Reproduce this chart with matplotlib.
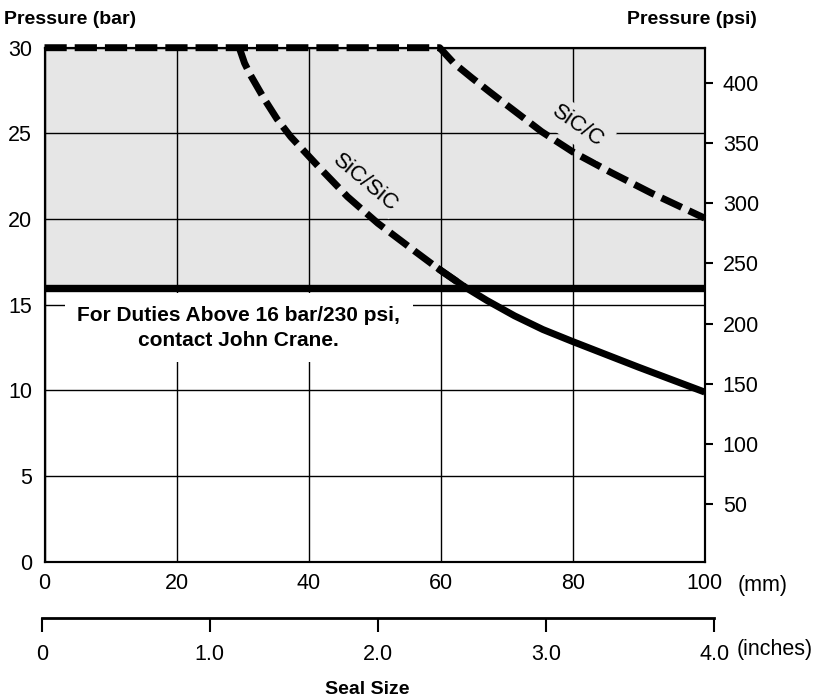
import matplotlib

matplotlib.use("Agg")
import matplotlib.pyplot as plt

plt.rcParams["font.family"] = ["Liberation Sans", "DejaVu Sans"]

# seal size (mm) vs max pressure (bar)
sic_c_mm = [0, 59.85, 62.0, 64.7, 67.5, 70.2, 75.3, 80.1, 85.9, 92.0, 100]
sic_c_bar = [30, 30, 29.1, 28.25, 27.4, 26.6, 25.1, 23.9, 22.7, 21.5, 20.05]

sic_sic_dash_mm = [29.5, 30.3, 31.2, 33.3, 35.2, 37.3, 41.4, 45.9, 50.5, 56.0, 60.0, 63.6]
sic_sic_dash_bar = [30, 29.1, 28.4, 27.0, 25.85, 24.8, 23.1, 21.3, 19.75, 18.15, 17.0, 16.05]

sic_sic_solid_mm = [59.5, 63.6, 67.0, 71.2, 75.5, 80.0, 90.0, 100]
sic_sic_solid_bar = [17.15, 16.05, 15.25, 14.35, 13.55, 12.85, 11.35, 9.9]

limit_bar = 16
top_bar = 30

mm_ticks = [0, 20, 40, 60, 80, 100]
bar_ticks = [0, 5, 10, 15, 20, 25, 30]
psi_ticks = [50, 100, 150, 200, 250, 300, 350, 400]
psi_range = (2.1, 429.3)
inch_ticks = [0, 1, 2, 3, 4]
inch_labels = ["0", "1.0", "2.0", "3.0", "4.0"]

W, H = 817, 700
FS = 15.5
HEAD_FS = 14

fig = plt.figure(figsize=(W / 100, H / 100), dpi=100)
left, right, bottom, top = 44.5, 704.7, 561.7, 47.7
ax = fig.add_axes([left / W, 1 - bottom / H, (right - left) / W, (bottom - top) / H])

ax.set_xlim(0, 100)
ax.set_ylim(0, 30)
ax.set_axisbelow(True)
ax.fill_between([0, 100], limit_bar, top_bar, color="#e6e6e6", zorder=0.2, lw=0)
ax.grid(True, color="black", lw=1.0)
ax.set_xticks(mm_ticks)
ax.set_yticks(bar_ticks)
ax.tick_params(axis="both", length=0, labelsize=FS)
ax.tick_params(axis="x", pad=8)
ax.tick_params(axis="y", pad=9)
for sp in ax.spines.values():
    sp.set_linewidth(1.5)

# limit line and curves
ax.axhline(limit_bar, color="black", lw=5.3, solid_capstyle="butt", zorder=3)
dash_kw = dict(color="black", lw=5, dashes=(3.2, 1.15), dash_capstyle="butt",
               clip_on=False, zorder=4)
ax.plot(sic_c_mm, sic_c_bar, **dash_kw)
ax.plot(sic_sic_dash_mm, sic_sic_dash_bar, **dash_kw)
ax.plot(sic_sic_solid_mm, sic_sic_solid_bar, color="black", lw=5,
        solid_capstyle="butt", clip_on=False, zorder=4)

ax.text(80.8, 25.4, "SiC/C", rotation=-35, ha="center", va="center", fontsize=16,
        rotation_mode="anchor", zorder=5,
        bbox=dict(boxstyle="square,pad=0.3", fc="#e6e6e6", ec="none"))
ax.text(48.6, 22.1, "SiC/SiC", rotation=-40, ha="center", va="center", fontsize=16,
        rotation_mode="anchor", zorder=5,
        bbox=dict(boxstyle="square,pad=0.1", fc="#e6e6e6", ec="none"))

ax.text(29.4, 13.65, "For Duties Above 16 bar/230 psi,\ncontact John Crane.",
        ha="center", va="center", fontsize=15, fontweight="bold", linespacing=1.4,
        zorder=2, bbox=dict(boxstyle="square,pad=0.6", fc="white", ec="none"))

# psi axis on the right
axr = ax.twinx()
axr.set_ylim(*psi_range)
axr.set_yticks(psi_ticks)
axr.tick_params(axis="y", direction="out", length=6, width=1.5, labelsize=FS, pad=7)
for sp in axr.spines.values():
    sp.set_linewidth(1.5)

# inches scale below
in_left, in_right, in_y = 41.7, 714.3, 617.7
axi = fig.add_axes([in_left / W, 1 - in_y / H, (in_right - in_left) / W, 0.0001])
axi.set_xlim(0, 4)
axi.set_ylim(0, 1)
for name in ["top", "left", "right"]:
    axi.spines[name].set_visible(False)
axi.spines["bottom"].set_linewidth(2)
axi.set_yticks([])
axi.set_xticks(inch_ticks)
axi.set_xticklabels(inch_labels)
axi.tick_params(axis="x", direction="out", length=10, width=1.5, labelsize=FS, pad=9)
axi.patch.set_visible(False)

fig.text(738 / W, 1 - 585 / H, "(mm)", fontsize=FS, ha="left", va="center")
fig.text(737 / W, 1 - 650 / H, "(inches)", fontsize=FS, ha="left", va="center")
fig.text(367 / W, 1 - 689 / H, "Seal Size", fontsize=HEAD_FS, fontweight="bold",
         ha="center", va="center")
fig.text(4 / W, 1 - 19 / H, "Pressure (bar)", fontsize=HEAD_FS, fontweight="bold",
         ha="left", va="center")
fig.text(757 / W, 1 - 19 / H, "Pressure (psi)", fontsize=HEAD_FS, fontweight="bold",
         ha="right", va="center")

fig.savefig("out.png", dpi=100)
